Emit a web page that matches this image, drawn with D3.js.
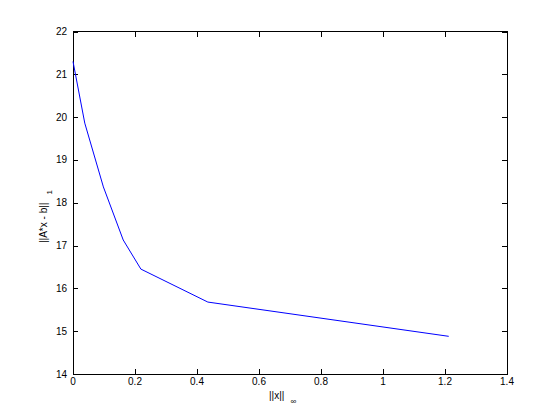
<!DOCTYPE html>
<html><head><meta charset="utf-8">
<script src="https://cdn.jsdelivr.net/npm/d3@7"></script>
<style>body{margin:0;background:#fff;} text{font-family:"Liberation Sans",Arial,sans-serif;font-size:10px;fill:#000;}</style>
</head><body>
<svg id="c" width="560" height="420"></svg>
<script>
const xValues = [0, 0.038, 0.098, 0.162, 0.219, 0.435, 1.212];
const yValues = [21.3, 19.86, 18.37, 17.13, 16.45, 15.68, 14.88];
const xTicks = [0, 0.2, 0.4, 0.6, 0.8, 1, 1.2, 1.4];
const yTicks = [14, 15, 16, 17, 18, 19, 20, 21, 22];

const svg = d3.select("#c");
const L = 73, R = 507, T = 31.5, B = 374;
const x = d3.scaleLinear().domain([0, 1.4]).range([L, R]);
const y = d3.scaleLinear().domain([14, 22]).range([B, T]);

svg.append("rect").attr("width",560).attr("height",420).attr("fill","#fff");

const tl = 5;
const g = svg.append("g");
g.append("rect").attr("x",L).attr("y",T).attr("width",R-L).attr("height",B-T)
 .attr("fill","none").attr("stroke","#000").attr("stroke-width",1).attr("shape-rendering","crispEdges");

xTicks.forEach(v=>{
  const px = Math.round(x(v))+0.5;
  g.append("line").attr("x1",px).attr("x2",px).attr("y1",B).attr("y2",B-tl).attr("stroke","#000").attr("shape-rendering","crispEdges");
  g.append("line").attr("x1",px).attr("x2",px).attr("y1",T).attr("y2",T+tl).attr("stroke","#000").attr("shape-rendering","crispEdges");
  g.append("text").attr("x",x(v)).attr("y",B+11).attr("text-anchor","middle").text(d3.format("~g")(v));
});
yTicks.forEach(v=>{
  const py = Math.round(y(v))+0.5;
  g.append("line").attr("x1",L).attr("x2",L+tl).attr("y1",py).attr("y2",py).attr("stroke","#000").attr("shape-rendering","crispEdges");
  g.append("line").attr("x1",R).attr("x2",R-tl).attr("y1",py).attr("y2",py).attr("stroke","#000").attr("shape-rendering","crispEdges");
  g.append("text").attr("x",L-6).attr("y",y(v)+3.5).attr("text-anchor","end").text(v);
});

const data = xValues.map((d,i)=>[d,yValues[i]]);
svg.append("path").datum(data)
  .attr("d", d3.line().x(d=>x(d[0])).y(d=>y(d[1])))
  .attr("fill","none").attr("stroke","#0000ff").attr("stroke-width",1);

const xl = svg.append("text").attr("x",269).attr("y",399);
xl.append("tspan").text("||x||");
xl.append("tspan").attr("dx",6).attr("dy",5).attr("font-size","8px").text("\u221e");

const yl = svg.append("text").attr("transform","translate(47,243) rotate(-90)");
yl.append("tspan").text("||A*x - b||");
yl.append("tspan").attr("dx",8).attr("dy",5).attr("font-size","8px").text("1");
</script>
</body></html>
